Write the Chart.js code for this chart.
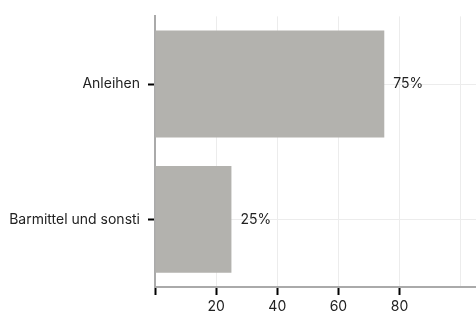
<!DOCTYPE html>
<html>
<head>
<meta charset="utf-8">
<script src="https://cdn.jsdelivr.net/npm/chart.js@4"></script>
<style>
  html, body { margin: 0; padding: 0; background: #fff; }
  #wrap { width: 476px; height: 314px; }
</style>
</head>
<body>
<div id="wrap"><canvas id="chart" width="476" height="314"></canvas></div>
<script>
const categories = ["Anleihen", "Barmittel und sonsti"];
const shares = [75, 25];
const xTicks = [0, 20, 40, 60, 80, 100];

// Prozentwerte rechts neben den Balken
const valueLabels = {
  id: "valueLabels",
  afterDatasetsDraw(chart) {
    const ctx = chart.ctx;
    const meta = chart.getDatasetMeta(0);
    ctx.save();
    ctx.font = "14px Inter";
    ctx.fillStyle = "#222";
    ctx.textAlign = "left";
    ctx.textBaseline = "middle";
    meta.data.forEach((bar, i) => {
      ctx.fillText(shares[i] + "%", bar.x + 9, bar.y);
    });
    ctx.restore();
  },
};

new Chart(document.getElementById("chart"), {
  type: "bar",
  data: {
    labels: categories,
    datasets: [
      {
        data: shares,
        backgroundColor: "#b3b2ae",
        borderWidth: 0,
        categoryPercentage: 1,
        barPercentage: 0.79,
      },
    ],
  },
  options: {
    indexAxis: "y",
    responsive: false,
    animation: false,
    layout: { padding: { top: 14, right: 0, left: 0, bottom: 0 } },
    plugins: {
      legend: { display: false },
      tooltip: { enabled: false },
    },
    scales: {
      x: {
        min: 0,
        max: 105,
        afterBuildTicks: (scale) => {
          scale.ticks = xTicks.map((v) => ({ value: v }));
        },
        afterFit: (scale) => {
          scale.height = 27;
        },
        border: { color: "#aaa", width: 2 },
        grid: {
          color: "#ececec",
          lineWidth: 1,
          tickLength: 8,
          tickWidth: 2,
          tickColor: (c) => (c.tick && c.tick.value === 100 ? "rgba(0,0,0,0)" : "#000"),
        },
        ticks: {
          color: "#222",
          font: { family: "Inter", size: 14 },
          padding: 3,
          callback: (v) => (v === 0 || v === 100 ? "" : v),
        },
      },
      y: {
        afterFit: (scale) => {
          scale.width = 155;
        },
        border: { color: "#aaa", width: 2 },
        grid: {
          offset: false,
          color: "#ececec",
          lineWidth: 1,
          tickLength: 7,
          tickWidth: 2,
          tickColor: "#000",
        },
        ticks: {
          color: "#222",
          font: { family: "Inter", size: 14 },
          padding: 8,
        },
      },
    },
  },
  plugins: [valueLabels],
});
</script>
</body>
</html>
